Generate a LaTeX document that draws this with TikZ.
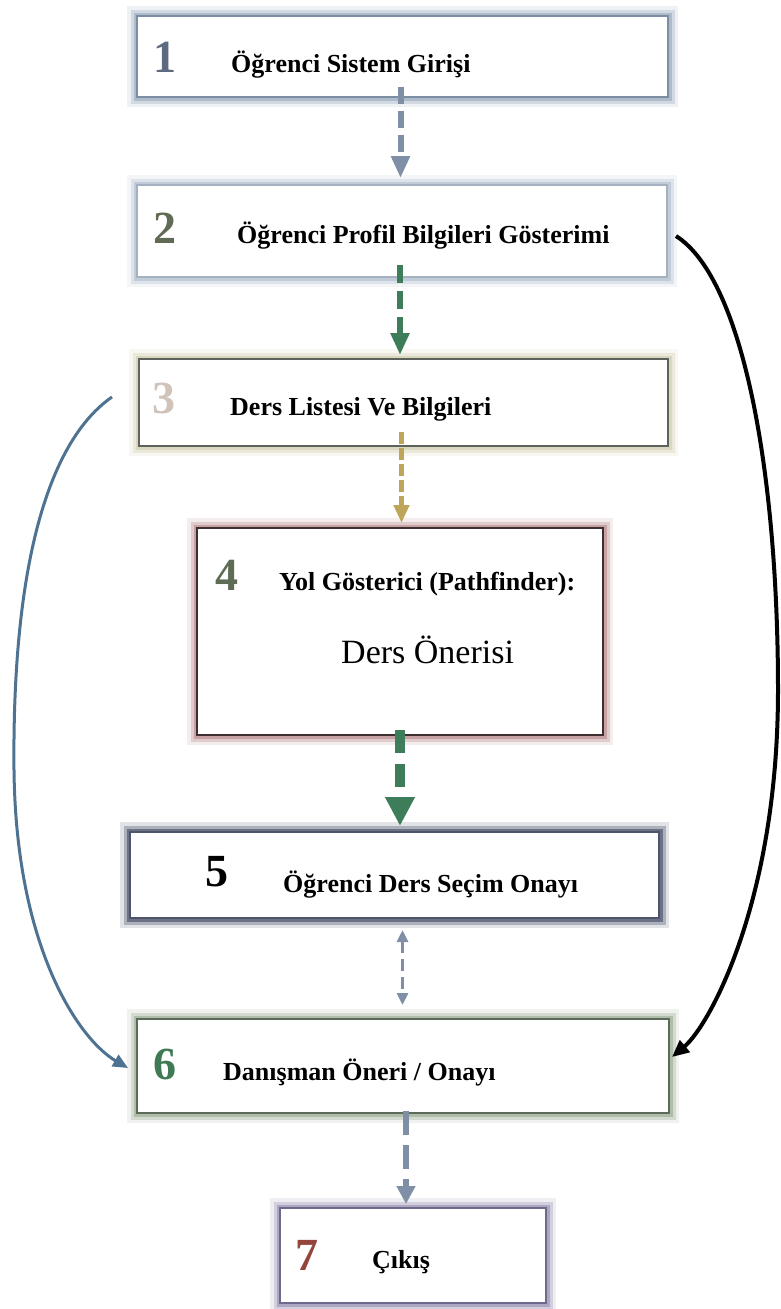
\documentclass[tikz,border=0pt]{standalone}
\usepackage{fontspec}
\setmainfont{Liberation Serif}
\usetikzlibrary{arrows.meta}
\definecolor{bdA}{HTML}{7D8EA4}\definecolor{glA}{HTML}{A7B5C6}
\definecolor{bdB}{HTML}{A3B1C1}\definecolor{glB}{HTML}{BCC8D5}
\definecolor{bdC}{HTML}{5E625C}\definecolor{glC}{HTML}{D6D4B8}
\definecolor{bdD}{HTML}{3D2F30}\definecolor{glD}{HTML}{C2999C}
\definecolor{bdE}{HTML}{4E546A}\definecolor{glE}{HTML}{5F667C}
\definecolor{bdF}{HTML}{5A6B5A}\definecolor{glF}{HTML}{A9B8A2}
\definecolor{bdG}{HTML}{6F6A8C}\definecolor{glG}{HTML}{A8A0BE}
\definecolor{numA}{HTML}{5C6B7E}\definecolor{numB}{HTML}{5F6B55}
\definecolor{numC}{HTML}{CFC3BA}\definecolor{numD}{HTML}{5E6B55}
\definecolor{numF}{HTML}{3F7A55}\definecolor{numG}{HTML}{94443B}
\definecolor{arrGrey}{HTML}{7F90A6}\definecolor{arrGreen}{HTML}{3E7D5A}
\definecolor{arrGold}{HTML}{BFA55A}\definecolor{arrBlue}{HTML}{4E7292}
\tikzset{
  procbox/.style 2 args={rectangle, fill=white, inner sep=0pt, outer sep=0pt,
    draw=#1, line width=1.6pt,
    preaction={draw=#2, line width=20pt, opacity=0.18},
    preaction={draw=#2, line width=13pt, opacity=0.4},
    preaction={draw=#2, line width=7pt, opacity=0.85}},
  numlbl/.style={anchor=base west, inner sep=0pt, font=\fontsize{46}{50}\selectfont\bfseries},
  txtlbl/.style={anchor=base west, inner sep=0pt, font=\fontsize{26}{30}\selectfont\bfseries},
  biglbl/.style={anchor=base west, inner sep=0pt, font=\fontsize{34}{38}\selectfont},
  flowarrow/.style={line width=#1},
}
\begin{document}
\begin{tikzpicture}[x=1pt,y=-1pt]
\useasboundingbox (0,0) rectangle (780,1309);
% boxes
\node[procbox={bdA}{glA}, minimum width=531pt, minimum height=81pt] (b1) at (402.5,56.5) {};
\node[procbox={bdB}{glB}, minimum width=530pt, minimum height=92pt] (b2) at (402,231) {};
\node[procbox={bdC}{glC}, minimum width=529pt, minimum height=87pt] (b3) at (403.5,402.5) {};
\node[procbox={bdD}{glD}, minimum width=406pt, minimum height=207pt] (b4) at (400,631.5) {};
\node[procbox={bdE}{glE}, minimum width=529pt, minimum height=86pt] (b5) at (394.5,875) {};
\node[procbox={bdF}{glF}, minimum width=532pt, minimum height=94pt] (b6) at (403,1066) {};
\node[procbox={bdG}{glG}, minimum width=266pt, minimum height=95pt] (b7) at (413,1255.5) {};
% labels
\node[numlbl, text=numA] (n1) at (153,72) {1};
\node[txtlbl] (t1) at (231,72) {Öğrenci Sistem Girişi};
\node[numlbl, text=numB] (n2) at (153,243) {2};
\node[txtlbl] (t2) at (237,243) {Öğrenci Profil Bilgileri Gösterimi};
\node[numlbl, text=numC] (n3) at (152,413) {3};
\node[txtlbl] (t3) at (230,415) {Ders Listesi Ve Bilgileri};
\node[numlbl, text=numD] (n4) at (215,590) {4};
\node[txtlbl] (t4) at (279,590) {Yol Gösterici (Pathfinder):};
\node[biglbl] (t4b) at (341,663) {Ders Önerisi};
\node[numlbl, text=black] (n5) at (205,886) {5};
\node[txtlbl] (t5) at (283,892) {Öğrenci Ders Seçim Onayı};
\node[numlbl, text=numF] (n6) at (153,1079) {6};
\node[txtlbl] (t6) at (223,1080) {Danışman Öneri / Onayı};
\node[numlbl, text=numG] (n7) at (295,1270) {7};
\node[txtlbl] (t7) at (372,1268) {Çıkış};
% straight connectors
\draw[arrGrey, line width=6pt, dash pattern=on 17pt off 7pt, -{Triangle[length=22pt,width=18pt]}]
  ([xshift=-2pt,yshift=10pt]b1.south) -- ([xshift=-2pt,yshift=7pt]b1.south |- b2.north);
\draw[arrGreen, line width=6pt, dash pattern=on 18pt off 8pt, -{Triangle[length=22pt,width=18pt]}]
  ([xshift=-2pt,yshift=12pt]b2.south) -- ([xshift=-2pt,yshift=4pt]b2.south |- b3.north);
\draw[arrGold, line width=5pt, dash pattern=on 12pt off 4pt, -{Triangle[length=18pt,width=15pt]}]
  ([xshift=-2pt,yshift=14pt]b3.south) -- ([xshift=-2pt,yshift=5pt]b3.south |- b4.north);
\draw[arrGreen, line width=10pt, dash pattern=on 23pt off 11pt, -{Triangle[length=29pt,width=28pt]}]
  ([yshift=5pt]b4.south) -- ([yshift=6pt]b4.south |- b5.north);
\draw[arrGrey, line width=3.5pt, dash pattern=on 12pt off 6pt, {Triangle[length=12pt,width=11pt]}-{Triangle[length=12pt,width=11pt]}]
  ([xshift=8pt,yshift=-12pt]b5.south) -- ([xshift=8pt,yshift=14pt]b5.south |- b6.north);
\draw[arrGrey, line width=6pt, dash pattern=on 24pt off 10pt, -{Triangle[length=18pt,width=18pt]}]
  ([xshift=3pt,yshift=2pt]b6.south) -- ([xshift=3pt,yshift=4pt]b6.south |- b7.north);
% curved connectors
\coordinate (c3) at (112,397);
\draw[arrBlue, line width=3pt, -{Triangle[length=15pt,width=13pt]}]
  (c3) .. controls (50,440) and (12,560) .. (14,770)
       .. controls (16,950) and (80,1040) .. ([xshift=-9pt,yshift=-2pt]b6.west);
\coordinate (c2) at (676,236);
\draw[black, line width=4pt, -{Triangle[length=17pt,width=15pt]}]
  (c2) .. controls (745,280) and (778,480) .. (778,690)
       .. controls (778,900) and (710,1025) .. ([xshift=3pt,yshift=9pt]b6.east);
\end{tikzpicture}
\end{document}
